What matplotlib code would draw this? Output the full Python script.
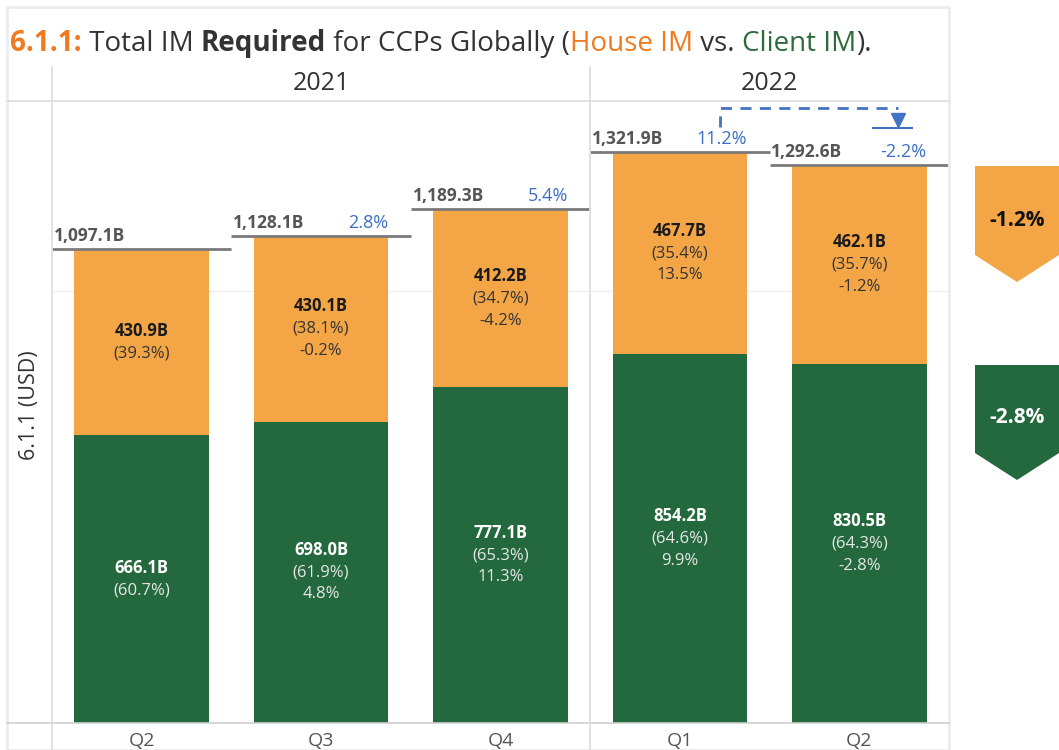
import matplotlib
matplotlib.use("Agg")
import matplotlib.pyplot as plt
from matplotlib.patches import Polygon, Rectangle
from matplotlib.lines import Line2D

plt.rcParams['font.family'] = ['Open Sans', 'DejaVu Sans']

# data (billions USD)
quarters = ['Q2', 'Q3', 'Q4', 'Q1', 'Q2']
years = ['2021', '2022']
year_span = [(0, 2), (3, 4)]
client_im = [666.1, 698.0, 777.1, 854.2, 830.5]
house_im = [430.9, 430.1, 412.2, 467.7, 462.1]
totals = [1097.1, 1128.1, 1189.3, 1321.9, 1292.6]
total_labels = ['1,097.1B', '1,128.1B', '1,189.3B', '1,321.9B', '1,292.6B']
total_chg = [None, '2.8%', '5.4%', '11.2%', '-2.2%']
client_share = ['(60.7%)', '(61.9%)', '(65.3%)', '(64.6%)', '(64.3%)']
house_share = ['(39.3%)', '(38.1%)', '(34.7%)', '(35.4%)', '(35.7%)']
client_chg = [None, '4.8%', '11.3%', '9.9%', '-2.8%']
house_chg = [None, '-0.2%', '-4.2%', '13.5%', '-1.2%']
qoq_house = '-1.2%'
qoq_client = '-2.8%'

ORANGE = '#F4A646'
GREEN = '#23693D'
BLUE = '#3B6FC6'
GRAY = '#7a7a7a'
FRAME = '#ececec'

W, H = 1059, 750
fig = plt.figure(figsize=(W / 100, H / 100), dpi=100)


def px(x, y):
    return (x / W, 1 - y / H)


# plot area
ax = fig.add_axes([52 / W, (H - 723) / H, (949 - 52) / W, (723 - 101) / H])
ax.set_xlim(-0.5, 4.5)
ax.set_ylim(0, 1440)
for s in ax.spines.values():
    s.set_visible(False)
ax.set_xticks([])
ax.set_yticks([])
ax.axhline(1000, color='#f0f0f0', lw=1, zorder=0)

x = list(range(len(quarters)))
ax.bar(x, client_im, width=0.75, color=GREEN, zorder=2)
ax.bar(x, house_im, width=0.75, bottom=client_im, color=ORANGE, zorder=2)

step = 16
for i in x:
    # total line + labels
    ax.hlines(totals[i], i - 0.5, i + 0.5, color=GRAY, lw=2, zorder=3)
    ax.annotate(total_labels[i], (i - 0.49, totals[i]), xytext=(0, 3), textcoords='offset points',
                ha='left', va='bottom', fontsize=12.5, fontweight='bold', color='#555555')
    if total_chg[i]:
        ax.annotate(total_chg[i], (i + 0.375, totals[i]), xytext=(0, 3), textcoords='offset points',
                    ha='right', va='bottom', fontsize=13, color=BLUE)

    # segment labels
    for bottom, val, share, chg, dark in [(0, client_im[i], client_share[i], client_chg[i], False),
                                          (client_im[i], house_im[i], house_share[i], house_chg[i], True)]:
        lines = [f'{val:.1f}B', share] + ([chg] if chg else [])
        n = len(lines)
        mid = bottom + val / 2
        for k, t in enumerate(lines):
            off = ((n - 1) / 2 - k) * step
            c = ('#1a1a1a' if k == 0 else '#333333') if dark else ('#ffffff' if k == 0 else '#e6e6e6')
            ax.annotate(t, (i, mid), xytext=(0, off), textcoords='offset points', ha='center',
                        va='center', fontsize=12, color=c,
                        fontweight='bold' if k == 0 else 'normal')

# dashed connector Q1 -> Q2 2022
ax.plot([3.225, 3.225, 4.216], [1379, 1423, 1423], color='#4472C4', lw=2, ls=(0, (4, 3)),
        zorder=4, clip_on=False)
ax.plot([4.216], [1395], marker='v', ms=10, color='#4472C4', clip_on=False, zorder=4)
ax.hlines(1377, 4.07, 4.30, color='#4472C4', lw=1.5, zorder=4)

# frame and table lines
fig.add_artist(Rectangle(px(7, 750), (949 - 7) / W, (750 - 7) / H, transform=fig.transFigure,
                         fill=False, ec=FRAME, lw=2))
fig.add_artist(Line2D([7 / W, 949 / W], [1 - 101 / H] * 2, color='#dddddd', lw=1.2))
fig.add_artist(Line2D([7 / W, 949 / W], [1 - 723 / H] * 2, color='#d0d0d0', lw=1.2))
for vx in (52, 590):
    fig.add_artist(Line2D([vx / W] * 2, [1 - 67 / H, 0], color='#dddddd', lw=1.2))

# year headers
for yr, (a, b) in zip(years, year_span):
    cx = 52 + ((a + b) / 2 + 0.5) * (949 - 52) / 5
    fig.text(cx / W, 1 - 84 / H, yr, ha='center', va='center', fontsize=18, color='#333333')

# quarter labels (cut by bottom edge)
for i, q in enumerate(quarters):
    cx = 52 + (i + 0.5) * (949 - 52) / 5
    fig.text(cx / W, 1 - 732 / H, q, ha='center', va='top', fontsize=14, color='#555555')

fig.text(30 / W, 1 - 405 / H, '6.1.1 (USD)', rotation=90, ha='center', va='center',
         fontsize=15.5, color='#333333')

# title with mixed styles
parts = [('6.1.1:', '#F07A1E', 'bold'), (' Total IM ', '#333333', 'normal'),
         ('Required', '#333333', 'bold'), (' for CCPs Globally (', '#333333', 'normal'),
         ('House IM', '#F07A1E', 'normal'), (' vs. ', '#333333', 'normal'),
         ('Client IM', '#2E6B3A', 'normal'), (').', '#333333', 'normal')]
renderer = fig.canvas.get_renderer()
tx = 10
for t, c, w in parts:
    txt = fig.text(tx / W, 1 - 51 / H, t, ha='left', va='baseline', fontsize=20, color=c,
                   fontweight=w)
    bb = txt.get_window_extent(renderer)
    tx += bb.width

# right-side change arrows
for (top, shoulder, tip, cy), col, tcol, lab in [((166, 255, 282, 220), ORANGE, '#111111', qoq_house),
                                                 ((365, 453, 480, 417), GREEN, '#ffffff', qoq_client)]:
    pts = [px(975, top), px(1059, top), px(1059, shoulder), px(1017, tip), px(975, shoulder)]
    fig.add_artist(Polygon(pts, closed=True, transform=fig.transFigure, fc=col, ec='none'))
    fig.text(1017 / W, 1 - cy / H, lab, ha='center', va='center', fontsize=15,
             fontweight='bold', color=tcol)

fig.savefig('out.png', dpi=100)
